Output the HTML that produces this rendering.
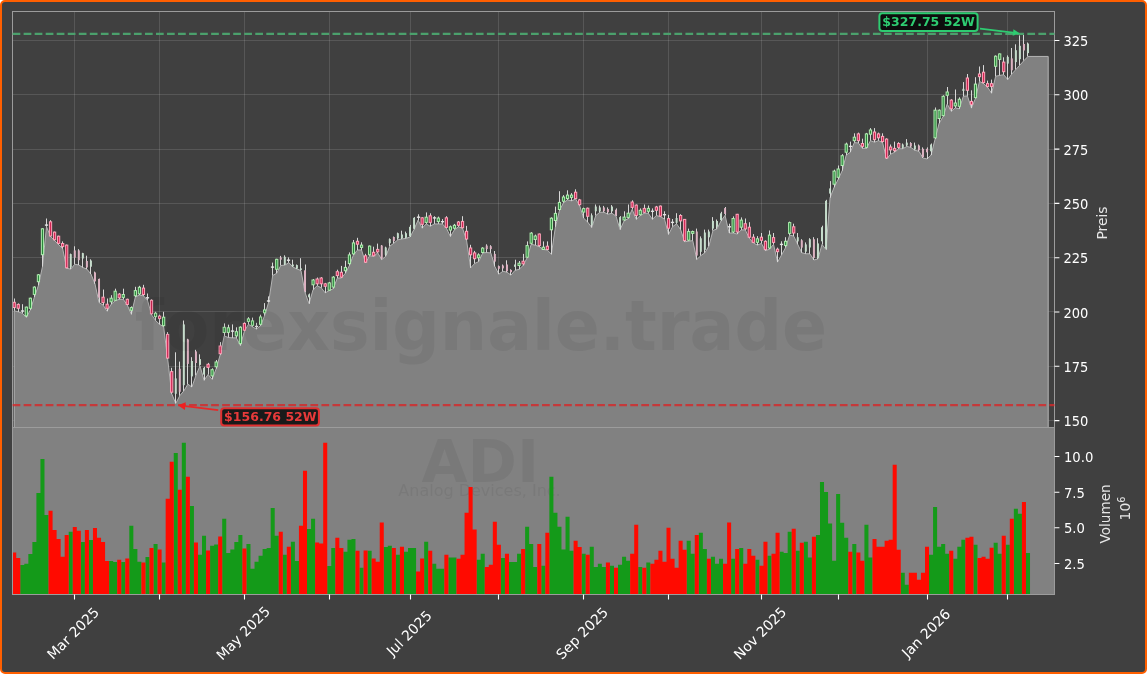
<!DOCTYPE html>
<html><head><meta charset="utf-8"><style>
html,body{margin:0;padding:0;background:#fff;}
#c{position:absolute;left:0;top:0;width:1147px;height:674px;box-sizing:border-box;border:2px solid #ff5f00;border-radius:5px;background:#404040;overflow:hidden;}
svg{position:absolute;left:-2px;top:-2px;will-change:transform;}
.tl{font-family:'DejaVu Sans','Liberation Sans',sans-serif;font-size:13.9px;fill:#fff;}
.al{font-family:'DejaVu Sans','Liberation Sans',sans-serif;font-size:13.9px;fill:#e6e6e6;}
</style></head><body><div id="c"><svg width="1147" height="674" viewBox="0 0 1147 674">
<path d="M74.5 11.5V427.5M159.5 11.5V427.5M244.5 11.5V427.5M329.5 11.5V427.5M410.5 11.5V427.5M498.5 11.5V427.5M583.5 11.5V427.5M668.5 11.5V427.5M761.5 11.5V427.5M838.5 11.5V427.5M927.5 11.5V427.5M1007.5 11.5V427.5" stroke="#fff" stroke-opacity="0.12" stroke-width="1" fill="none"/>
<path d="M12.5 40.5H1054.5M12.5 94.5H1054.5M12.5 149.5H1054.5M12.5 203.5H1054.5M12.5 257.5H1054.5M12.5 311.5H1054.5M12.5 366.5H1054.5M12.5 420.5H1054.5" stroke="#fff" stroke-opacity="0.12" stroke-width="1" fill="none"/>
<path d="M14.20 310.74 L18.24 311.88 L22.28 313.19 L26.32 317.27 L30.36 309.92 L34.39 297.19 L38.43 285.44 L42.47 266.67 L46.51 226.69 L50.55 236.48 L54.59 240.56 L58.63 244.64 L62.67 248.72 L66.71 268.31 L70.75 269.12 L74.78 264.23 L78.82 265.04 L82.86 267.49 L86.90 269.12 L90.94 274.02 L94.98 283.81 L99.02 302.58 L103.06 305.03 L107.10 311.23 L111.14 304.21 L115.17 300.83 L119.21 299.29 L123.25 299.29 L127.29 305.07 L131.33 314.33 L135.37 296.97 L139.41 295.04 L143.45 295.82 L147.49 300.25 L151.53 314.72 L155.56 320.50 L159.60 324.36 L163.64 326.68 L167.68 359.08 L171.72 393.80 L175.76 403.44 L179.80 395.73 L183.84 390.91 L187.88 384.15 L191.92 387.05 L195.95 375.47 L199.99 365.83 L204.03 380.30 L208.07 374.51 L212.11 379.33 L216.15 368.72 L220.19 354.84 L224.23 335.93 L228.27 337.48 L232.31 337.86 L236.34 337.86 L240.38 345.55 L244.42 331.08 L248.46 324.33 L252.50 326.84 L256.54 329.15 L260.58 325.68 L264.62 315.65 L268.66 302.15 L272.70 275.53 L276.73 273.22 L280.77 265.50 L284.81 265.12 L288.85 262.61 L292.89 267.05 L296.93 268.98 L300.97 270.52 L305.01 292.51 L309.05 303.69 L313.09 289.61 L317.12 285.76 L321.16 287.69 L325.20 292.89 L329.24 290.58 L333.28 288.65 L337.32 278.04 L341.36 278.04 L345.40 273.22 L349.44 265.50 L353.48 254.90 L357.51 249.97 L361.55 249.97 L365.59 262.89 L369.63 255.76 L373.67 256.34 L377.71 252.86 L381.75 259.61 L385.79 256.34 L389.83 246.11 L393.87 243.22 L397.90 239.75 L401.94 238.98 L405.98 238.40 L410.02 237.05 L414.06 229.33 L418.10 220.07 L422.14 228.18 L426.18 223.93 L430.22 226.25 L434.26 223.93 L438.29 223.93 L442.33 223.93 L446.37 228.18 L450.41 236.47 L454.45 229.72 L458.49 226.82 L462.53 228.18 L466.57 240.33 L470.61 267.91 L474.65 263.47 L478.68 261.62 L482.72 252.94 L486.76 252.55 L490.80 252.94 L494.84 266.44 L498.88 274.15 L502.92 271.26 L506.96 272.23 L511.00 275.12 L515.04 270.30 L519.07 269.33 L523.11 265.47 L527.15 257.76 L531.19 244.26 L535.23 245.22 L539.27 246.77 L543.31 249.47 L547.35 250.04 L551.39 254.29 L555.43 226.90 L559.47 210.50 L563.50 202.79 L567.54 199.90 L571.58 200.86 L575.62 198.93 L579.66 205.68 L583.70 218.22 L587.74 222.08 L591.78 227.48 L595.82 215.53 L599.86 212.26 L603.89 212.26 L607.93 214.18 L611.97 213.22 L616.01 216.11 L620.05 229.61 L624.09 220.93 L628.13 218.62 L632.17 209.36 L636.21 219.39 L640.25 215.53 L644.28 213.22 L648.32 213.22 L652.36 219.39 L656.40 215.53 L660.44 216.69 L664.48 219.01 L668.52 234.44 L672.56 226.72 L676.60 223.83 L680.63 229.61 L684.67 241.77 L688.71 241.19 L692.75 240.61 L696.79 259.51 L700.83 255.65 L704.87 252.76 L708.91 246.01 L712.95 230.58 L716.99 228.86 L721.02 220.96 L725.06 215.36 L729.10 233.01 L733.14 233.01 L737.18 234.05 L741.22 229.90 L745.26 229.90 L749.30 238.20 L753.34 242.98 L757.38 245.06 L761.41 243.40 L765.45 250.67 L769.49 249.21 L773.53 244.44 L777.57 262.09 L781.61 254.82 L785.65 247.55 L789.69 235.09 L793.73 236.13 L797.77 244.44 L801.80 252.74 L805.84 253.78 L809.88 253.78 L813.92 260.01 L817.96 258.98 L822.00 244.44 L826.04 249.63 L830.08 197.70 L834.12 187.31 L838.16 179.42 L842.19 170.70 L846.23 155.12 L850.27 152.23 L854.31 142.58 L858.35 142.97 L862.39 148.37 L866.43 148.37 L870.47 140.65 L874.51 142.20 L878.55 140.65 L882.59 142.58 L886.62 158.98 L890.66 154.15 L894.70 152.23 L898.74 148.75 L902.78 148.75 L906.82 146.44 L910.86 147.40 L914.90 150.30 L918.94 151.26 L922.98 158.01 L927.01 158.98 L931.05 155.12 L935.09 139.11 L939.13 123.29 L943.17 116.54 L947.21 104.01 L951.25 111.34 L955.29 107.86 L959.33 108.83 L963.37 96.22 L967.40 95.92 L971.44 108.09 L975.48 98.44 L979.52 81.38 L983.56 83.61 L987.60 87.31 L991.64 93.25 L995.68 76.19 L999.72 75.45 L1003.75 74.70 L1007.79 79.60 L1011.83 73.96 L1015.87 69.51 L1019.91 65.06 L1023.95 60.61 L1027.99 56.45 L1048.20 56.45 L1048.2 427.5 L14.20 427.5 Z" fill="#818181" stroke="#b4b4b4" stroke-width="1" stroke-linejoin="miter" stroke-miterlimit="2"/>
<path d="M14.5 298.5V310.7M18.5 303.4V311.9M22.5 304.2V313.2M26.5 306.7V317.3M30.5 297.7V309.9M34.5 286.3V297.2M38.5 274.0V285.4M42.5 228.3V266.7M46.5 218.5V226.7M50.5 220.2V236.5M54.5 231.6V240.6M58.5 235.7V244.6M62.5 241.4V248.7M66.5 244.6V268.3M70.5 253.6V269.1M74.5 246.3V264.2M78.5 249.2V265.0M82.5 252.8V267.5M86.5 255.7V269.1M90.5 259.3V274.0M94.5 271.6V283.8M99.5 278.6V302.6M103.5 289.5V305.0M107.5 298.5V311.2M111.5 295.2V304.2M115.5 288.7V300.8M119.5 293.1V299.3M123.5 288.7V299.3M127.5 298.7V305.1M131.5 306.4V314.3M135.5 286.8V297.0M139.5 285.8V295.0M143.5 284.8V295.8M147.5 293.5V300.3M151.5 299.3V314.7M155.5 311.8V320.5M159.5 314.7V324.4M163.5 311.8V326.7M167.5 332.1V359.1M171.5 367.8V393.8M175.5 352.3V403.4M179.5 361.6V395.7M183.5 320.5V390.9M187.5 338.8V384.2M191.5 357.2V387.0M195.5 349.8V375.5M199.5 354.3V365.8M204.5 366.8V380.3M208.5 362.9V374.5M212.5 368.3V379.3M216.5 360.0V368.7M220.5 342.1V354.8M224.5 323.4V335.9M228.5 324.7V337.5M232.5 324.4V337.9M236.5 327.3V337.9M240.5 326.3V345.5M244.5 322.4V331.1M248.5 317.2V324.3M252.5 317.6V326.8M256.5 322.8V329.2M260.5 314.7V325.7M264.5 303.1V315.7M268.5 296.4V302.2M272.5 262.6V275.5M276.5 258.8V273.2M280.5 255.9V265.5M284.5 255.3V265.1M288.5 257.4V262.6M292.5 259.7V267.0M296.5 264.5V269.0M300.5 258.2V270.5M305.5 264.5V292.5M309.5 293.5V303.7M313.5 279.0V289.6M317.5 277.5V285.8M321.5 277.1V287.7M325.5 282.9V292.9M329.5 281.9V290.6M333.5 276.1V288.6M337.5 269.7V278.0M341.5 265.9V278.0M345.5 260.7V273.2M349.5 252.4V265.5M353.5 240.0V254.9M357.5 237.8V250.0M361.5 242.3V250.0M365.5 253.8V262.9M369.5 245.5V255.8M373.5 246.7V256.3M377.5 243.6V252.9M381.5 245.1V259.6M385.5 246.7V256.3M389.5 238.4V246.1M393.5 236.5V243.2M397.5 232.6V239.7M401.5 230.7V239.0M405.5 231.6V238.4M410.5 224.9V237.0M414.5 217.2V229.3M418.5 214.3V220.1M422.5 217.2V228.2M426.5 212.4V223.9M430.5 213.3V226.2M434.5 216.2V223.9M438.5 216.6V223.9M442.5 219.1V223.9M446.5 216.2V228.2M450.5 225.5V236.5M454.5 223.9V229.7M458.5 221.0V226.8M462.5 216.2V228.2M466.5 225.9V240.3M470.5 244.8V267.9M474.5 250.9V263.5M478.5 253.3V261.6M482.5 247.2V252.9M486.5 244.3V252.6M490.5 245.2V252.9M494.5 251.0V266.4M498.5 265.5V274.2M502.5 264.5V271.3M506.5 260.3V272.2M510.5 269.3V275.1M515.5 259.7V270.3M519.5 261.0V269.3M523.5 253.9V265.5M527.5 241.4V257.8M531.5 232.1V244.3M535.5 234.6V245.2M539.5 233.6V246.8M543.5 241.4V249.5M547.5 241.4V250.0M551.5 217.3V254.3M555.5 206.6V226.9M559.5 191.2V210.5M563.5 195.1V202.8M567.5 190.3V199.9M571.5 193.1V200.9M575.5 189.3V198.9M579.5 198.9V205.7M583.5 207.6V218.2M587.5 207.6V222.1M591.5 213.4V227.5M595.5 204.5V215.5M599.5 205.5V212.3M603.5 205.9V212.3M607.5 207.4V214.2M611.5 205.1V213.2M616.5 208.4V216.1M620.5 216.1V229.6M624.5 211.3V220.9M628.5 204.5V218.6M632.5 200.3V209.4M636.5 204.5V219.4M640.5 208.4V215.5M644.5 204.5V213.2M648.5 205.5V213.2M652.5 208.4V219.4M656.5 205.9V215.5M660.5 205.5V216.7M664.5 211.3V219.0M668.5 214.8V234.4M672.5 219.0V226.7M676.5 213.2V223.8M680.5 214.2V229.6M684.5 219.0V241.8M688.5 228.6V241.2M692.5 230.6V240.6M696.5 228.6V259.5M700.5 236.4V255.7M704.5 229.6V252.8M708.5 229.6V246.0M712.5 217.1V230.6M716.5 219.5V228.9M721.5 211.8V221.0M725.5 207.0V215.4M729.5 223.7V233.0M733.5 216.4V233.0M737.5 213.9V234.1M741.5 217.4V229.9M745.5 218.5V229.9M749.5 222.2V238.2M753.5 234.1V243.0M757.5 236.1V245.1M761.5 233.0V243.4M765.5 240.3V250.7M769.5 230.5V249.2M773.5 233.0V244.4M777.5 247.6V262.1M781.5 241.3V254.8M785.5 237.2V247.6M789.5 221.6V235.1M793.5 223.7V236.1M797.5 233.0V244.4M801.5 239.2V252.7M805.5 242.4V253.8M809.5 238.2V253.8M813.5 237.2V260.0M817.5 238.2V259.0M822.5 225.7V244.4M826.5 199.8V249.6M830.5 181.1V197.7M834.5 169.7V187.3M838.5 165.5V179.4M842.5 154.1V170.7M846.5 142.6V155.1M850.5 141.6V152.2M854.5 133.3V142.6M858.5 132.6V143.0M862.5 138.7V148.4M866.5 132.9V148.4M870.5 128.1V140.7M874.5 128.1V142.2M878.5 132.6V140.7M882.5 133.3V142.6M886.5 138.3V159.0M890.5 144.5V154.2M894.5 141.6V152.2M898.5 142.2V148.8M902.5 143.5V148.8M906.5 139.1V146.4M910.5 142.2V147.4M914.5 142.6V150.3M918.5 144.5V151.3M922.5 147.4V158.0M927.5 147.4V159.0M931.5 143.5V155.1M935.5 107.5V139.1M939.5 109.4V123.3M943.5 95.3V116.5M947.5 87.0V104.0M951.5 99.2V111.3M955.5 89.5V107.9M959.5 97.3V108.8M963.5 82.1V96.2M967.5 74.0V95.9M971.5 90.3V108.1M975.5 77.2V98.4M979.5 66.5V81.4M983.5 65.1V83.6M987.5 80.6V87.3M991.5 79.6V93.2M995.5 55.4V76.2M999.5 53.5V75.4M1003.5 57.3V74.7M1007.5 55.4V79.6M1011.5 48.0V74.0M1015.5 44.3V69.5M1019.5 35.4V65.1M1023.5 34.2V60.6M1027.5 42.5V56.5" stroke="#d8d8d8" stroke-width="1" fill="none"/>
<rect x="13.10" y="302.3" width="2.2" height="5.2" fill="#d02452" stroke="#ffa4ba" stroke-width="1"/>
<rect x="17.14" y="304.4" width="2.2" height="3.9" fill="#d02452" stroke="#ffa4ba" stroke-width="1"/>
<rect x="20.90" y="310.3" width="3.2" height="1.4" fill="#e4e4e4"/>
<rect x="25.22" y="307.1" width="2.2" height="8.8" fill="#2a8a3c" stroke="#b0eeb0" stroke-width="1"/>
<rect x="29.26" y="298.2" width="2.2" height="10.1" fill="#2a8a3c" stroke="#b0eeb0" stroke-width="1"/>
<rect x="33.29" y="287.1" width="2.2" height="7.3" fill="#2a8a3c" stroke="#b0eeb0" stroke-width="1"/>
<rect x="37.33" y="274.8" width="2.2" height="6.9" fill="#2a8a3c" stroke="#b0eeb0" stroke-width="1"/>
<rect x="41.37" y="228.8" width="2.2" height="25.9" fill="#2a8a3c" stroke="#b0eeb0" stroke-width="1"/>
<rect x="44.90" y="224.4" width="3.2" height="1.4" fill="#e4e4e4"/>
<rect x="49.45" y="221.8" width="2.2" height="14.2" fill="#d02452" stroke="#ffa4ba" stroke-width="1"/>
<rect x="53.49" y="232.1" width="2.2" height="7.7" fill="#d02452" stroke="#ffa4ba" stroke-width="1"/>
<rect x="57.53" y="236.2" width="2.2" height="7.2" fill="#d02452" stroke="#ffa4ba" stroke-width="1"/>
<rect x="61.57" y="243.5" width="2.2" height="3.1" fill="#d02452" stroke="#ffa4ba" stroke-width="1"/>
<rect x="65.61" y="245.1" width="2.2" height="22.7" fill="#d02452" stroke="#ffa4ba" stroke-width="1"/>
<rect x="69.75" y="254.1" width="2" height="13.4" fill="#c6ddcc"/>
<rect x="73.78" y="250.4" width="2" height="7.3" fill="#ddb2c2"/>
<rect x="77.82" y="250.4" width="2" height="9.8" fill="#ddb2c2"/>
<rect x="81.86" y="253.1" width="2" height="5.4" fill="#c6ddcc"/>
<rect x="85.90" y="261.0" width="2" height="6.5" fill="#ddb2c2"/>
<rect x="89.94" y="260.5" width="2" height="6.2" fill="#c6ddcc"/>
<rect x="93.98" y="272.4" width="2" height="9.0" fill="#ddb2c2"/>
<rect x="98.02" y="278.9" width="2" height="18.8" fill="#ddb2c2"/>
<rect x="101.96" y="297.2" width="2.2" height="5.4" fill="#d02452" stroke="#ffa4ba" stroke-width="1"/>
<rect x="106.00" y="304.2" width="2.2" height="4.1" fill="#d02452" stroke="#ffa4ba" stroke-width="1"/>
<rect x="110.04" y="298.2" width="2.2" height="3.6" fill="#2a8a3c" stroke="#b0eeb0" stroke-width="1"/>
<rect x="114.08" y="291.2" width="2.2" height="9.1" fill="#2a8a3c" stroke="#b0eeb0" stroke-width="1"/>
<rect x="118.11" y="294.1" width="2.2" height="3.7" fill="#d02452" stroke="#ffa4ba" stroke-width="1"/>
<rect x="122.15" y="294.5" width="2.2" height="2.9" fill="#2a8a3c" stroke="#b0eeb0" stroke-width="1"/>
<rect x="126.19" y="299.3" width="2.2" height="5.2" fill="#d02452" stroke="#ffa4ba" stroke-width="1"/>
<rect x="130.23" y="307.6" width="2.2" height="2.7" fill="#2a8a3c" stroke="#b0eeb0" stroke-width="1"/>
<rect x="134.27" y="290.6" width="2.2" height="5.2" fill="#2a8a3c" stroke="#b0eeb0" stroke-width="1"/>
<rect x="138.31" y="287.3" width="2.2" height="6.6" fill="#2a8a3c" stroke="#b0eeb0" stroke-width="1"/>
<rect x="142.35" y="288.1" width="2.2" height="6.4" fill="#d02452" stroke="#ffa4ba" stroke-width="1"/>
<rect x="145.90" y="297.1" width="3.2" height="1.4" fill="#e4e4e4"/>
<rect x="150.43" y="300.3" width="2.2" height="13.5" fill="#d02452" stroke="#ffa4ba" stroke-width="1"/>
<rect x="154.46" y="313.2" width="2.2" height="3.5" fill="#2a8a3c" stroke="#b0eeb0" stroke-width="1"/>
<rect x="158.50" y="316.1" width="2.2" height="2.5" fill="#d02452" stroke="#ffa4ba" stroke-width="1"/>
<rect x="162.54" y="317.2" width="2.2" height="8.5" fill="#2a8a3c" stroke="#b0eeb0" stroke-width="1"/>
<rect x="166.58" y="334.4" width="2.2" height="23.7" fill="#d02452" stroke="#ffa4ba" stroke-width="1"/>
<rect x="170.62" y="371.6" width="2.2" height="20.6" fill="#d02452" stroke="#ffa4ba" stroke-width="1"/>
<rect x="174.76" y="378.4" width="2" height="15.4" fill="#c6ddcc"/>
<rect x="178.80" y="368.7" width="2" height="23.1" fill="#ddb2c2"/>
<rect x="182.84" y="324.4" width="2" height="60.8" fill="#c6ddcc"/>
<rect x="186.88" y="339.4" width="2" height="24.5" fill="#ddb2c2"/>
<rect x="190.92" y="361.0" width="2" height="15.4" fill="#c6ddcc"/>
<rect x="194.95" y="351.4" width="2" height="11.6" fill="#ddb2c2"/>
<rect x="198.99" y="359.1" width="2" height="5.8" fill="#c6ddcc"/>
<rect x="203.03" y="367.8" width="2" height="6.8" fill="#c6ddcc"/>
<rect x="206.97" y="364.3" width="2.2" height="3.1" fill="#d02452" stroke="#ffa4ba" stroke-width="1"/>
<rect x="211.01" y="369.7" width="2.2" height="6.2" fill="#2a8a3c" stroke="#b0eeb0" stroke-width="1"/>
<rect x="215.05" y="362.0" width="2.2" height="4.8" fill="#2a8a3c" stroke="#b0eeb0" stroke-width="1"/>
<rect x="219.09" y="346.0" width="2.2" height="7.7" fill="#d02452" stroke="#ffa4ba" stroke-width="1"/>
<rect x="223.13" y="327.3" width="2.2" height="5.2" fill="#2a8a3c" stroke="#b0eeb0" stroke-width="1"/>
<rect x="227.17" y="327.8" width="2.2" height="4.6" fill="#2a8a3c" stroke="#b0eeb0" stroke-width="1"/>
<rect x="230.90" y="330.4" width="3.2" height="1.4" fill="#e4e4e4"/>
<rect x="235.24" y="331.7" width="2.2" height="4.2" fill="#2a8a3c" stroke="#b0eeb0" stroke-width="1"/>
<rect x="239.28" y="327.2" width="2.2" height="16.4" fill="#2a8a3c" stroke="#b0eeb0" stroke-width="1"/>
<rect x="243.32" y="323.4" width="2.2" height="6.8" fill="#d02452" stroke="#ffa4ba" stroke-width="1"/>
<rect x="247.36" y="318.9" width="2.2" height="2.5" fill="#2a8a3c" stroke="#b0eeb0" stroke-width="1"/>
<rect x="251.40" y="320.9" width="2.2" height="4.4" fill="#2a8a3c" stroke="#b0eeb0" stroke-width="1"/>
<rect x="254.90" y="325.8" width="3.2" height="1.4" fill="#e4e4e4"/>
<rect x="259.48" y="317.0" width="2.2" height="7.3" fill="#2a8a3c" stroke="#b0eeb0" stroke-width="1"/>
<rect x="263.52" y="309.9" width="2.2" height="2.9" fill="#2a8a3c" stroke="#b0eeb0" stroke-width="1"/>
<rect x="266.90" y="300.3" width="3.2" height="1.4" fill="#e4e4e4"/>
<rect x="270.90" y="266.4" width="3.2" height="1.4" fill="#e4e4e4"/>
<rect x="275.63" y="259.3" width="2.2" height="10.0" fill="#2a8a3c" stroke="#b0eeb0" stroke-width="1"/>
<rect x="279.77" y="257.4" width="2" height="2.3" fill="#ddb2c2"/>
<rect x="283.81" y="256.8" width="2" height="7.7" fill="#c6ddcc"/>
<rect x="286.90" y="259.5" width="3.2" height="1.4" fill="#e4e4e4"/>
<rect x="291.89" y="264.5" width="2" height="1.9" fill="#c6ddcc"/>
<rect x="295.93" y="265.1" width="2" height="3.5" fill="#c6ddcc"/>
<rect x="299.97" y="268.4" width="2" height="1.5" fill="#c6ddcc"/>
<rect x="304.01" y="270.3" width="2" height="21.2" fill="#ddb2c2"/>
<rect x="308.05" y="294.4" width="2" height="2.9" fill="#c6ddcc"/>
<rect x="311.99" y="280.0" width="2.2" height="4.8" fill="#2a8a3c" stroke="#b0eeb0" stroke-width="1"/>
<rect x="316.02" y="279.0" width="2.2" height="4.8" fill="#d02452" stroke="#ffa4ba" stroke-width="1"/>
<rect x="320.06" y="278.0" width="2.2" height="5.8" fill="#d02452" stroke="#ffa4ba" stroke-width="1"/>
<rect x="324.10" y="283.8" width="2.2" height="2.5" fill="#d02452" stroke="#ffa4ba" stroke-width="1"/>
<rect x="328.14" y="282.9" width="2.2" height="7.3" fill="#2a8a3c" stroke="#b0eeb0" stroke-width="1"/>
<rect x="332.18" y="277.1" width="2.2" height="10.0" fill="#2a8a3c" stroke="#b0eeb0" stroke-width="1"/>
<rect x="336.22" y="271.7" width="2.2" height="3.9" fill="#d02452" stroke="#ffa4ba" stroke-width="1"/>
<rect x="340.26" y="272.3" width="2.2" height="4.8" fill="#d02452" stroke="#ffa4ba" stroke-width="1"/>
<rect x="344.30" y="267.4" width="2.2" height="3.3" fill="#2a8a3c" stroke="#b0eeb0" stroke-width="1"/>
<rect x="348.34" y="254.9" width="2.2" height="8.7" fill="#2a8a3c" stroke="#b0eeb0" stroke-width="1"/>
<rect x="352.38" y="242.9" width="2.2" height="11.0" fill="#2a8a3c" stroke="#b0eeb0" stroke-width="1"/>
<rect x="356.41" y="241.3" width="2.2" height="2.9" fill="#d02452" stroke="#ffa4ba" stroke-width="1"/>
<rect x="360.45" y="245.1" width="2.2" height="2.3" fill="#2a8a3c" stroke="#b0eeb0" stroke-width="1"/>
<rect x="364.49" y="255.8" width="2.2" height="6.4" fill="#d02452" stroke="#ffa4ba" stroke-width="1"/>
<rect x="368.53" y="246.1" width="2.2" height="8.7" fill="#2a8a3c" stroke="#b0eeb0" stroke-width="1"/>
<rect x="372.57" y="252.3" width="2.2" height="3.5" fill="#d02452" stroke="#ffa4ba" stroke-width="1"/>
<rect x="376.61" y="249.4" width="2.2" height="2.5" fill="#d02452" stroke="#ffa4ba" stroke-width="1"/>
<rect x="380.75" y="245.5" width="2" height="13.1" fill="#ddb2c2"/>
<rect x="384.79" y="247.5" width="2" height="7.3" fill="#c6ddcc"/>
<rect x="388.83" y="239.0" width="2" height="4.2" fill="#c6ddcc"/>
<rect x="392.87" y="237.0" width="2" height="4.2" fill="#ddb2c2"/>
<rect x="396.90" y="233.2" width="2" height="5.2" fill="#c6ddcc"/>
<rect x="400.94" y="234.5" width="2" height="3.9" fill="#c6ddcc"/>
<rect x="404.98" y="233.2" width="2" height="4.6" fill="#c6ddcc"/>
<rect x="409.02" y="226.8" width="2" height="9.6" fill="#c6ddcc"/>
<rect x="413.06" y="217.8" width="2" height="11.0" fill="#c6ddcc"/>
<rect x="416.90" y="216.5" width="3.2" height="1.4" fill="#e4e4e4"/>
<rect x="421.04" y="217.8" width="2.2" height="6.6" fill="#d02452" stroke="#ffa4ba" stroke-width="1"/>
<rect x="425.08" y="217.2" width="2.2" height="5.2" fill="#2a8a3c" stroke="#b0eeb0" stroke-width="1"/>
<rect x="429.12" y="215.8" width="2.2" height="6.6" fill="#d02452" stroke="#ffa4ba" stroke-width="1"/>
<rect x="432.90" y="217.2" width="3.2" height="1.4" fill="#e4e4e4"/>
<rect x="437.19" y="218.1" width="2.2" height="3.5" fill="#2a8a3c" stroke="#b0eeb0" stroke-width="1"/>
<rect x="440.90" y="221.0" width="3.2" height="1.4" fill="#e4e4e4"/>
<rect x="445.27" y="217.8" width="2.2" height="9.6" fill="#d02452" stroke="#ffa4ba" stroke-width="1"/>
<rect x="449.31" y="226.8" width="2.2" height="3.3" fill="#2a8a3c" stroke="#b0eeb0" stroke-width="1"/>
<rect x="453.35" y="225.3" width="2.2" height="2.9" fill="#2a8a3c" stroke="#b0eeb0" stroke-width="1"/>
<rect x="457.39" y="222.0" width="2.2" height="3.3" fill="#d02452" stroke="#ffa4ba" stroke-width="1"/>
<rect x="461.43" y="221.4" width="2.2" height="6.4" fill="#d02452" stroke="#ffa4ba" stroke-width="1"/>
<rect x="465.47" y="231.3" width="2.2" height="7.7" fill="#d02452" stroke="#ffa4ba" stroke-width="1"/>
<rect x="469.51" y="248.0" width="2.2" height="6.8" fill="#d02452" stroke="#ffa4ba" stroke-width="1"/>
<rect x="473.55" y="252.9" width="2.2" height="5.8" fill="#d02452" stroke="#ffa4ba" stroke-width="1"/>
<rect x="477.58" y="254.9" width="2.2" height="2.9" fill="#2a8a3c" stroke="#b0eeb0" stroke-width="1"/>
<rect x="481.62" y="248.1" width="2.2" height="4.4" fill="#2a8a3c" stroke="#b0eeb0" stroke-width="1"/>
<rect x="485.76" y="245.6" width="2" height="3.5" fill="#ddb2c2"/>
<rect x="489.80" y="246.2" width="2" height="2.9" fill="#ddb2c2"/>
<rect x="493.84" y="253.9" width="2" height="7.7" fill="#ddb2c2"/>
<rect x="497.88" y="266.1" width="2" height="2.7" fill="#ddb2c2"/>
<rect x="501.92" y="265.5" width="2" height="2.9" fill="#ddb2c2"/>
<rect x="505.96" y="264.5" width="2" height="6.8" fill="#ddb2c2"/>
<rect x="510.00" y="269.9" width="2" height="2.3" fill="#ddb2c2"/>
<rect x="514.04" y="264.5" width="2" height="2.3" fill="#c6ddcc"/>
<rect x="517.97" y="263.2" width="2.2" height="2.3" fill="#2a8a3c" stroke="#b0eeb0" stroke-width="1"/>
<rect x="522.01" y="261.2" width="2.2" height="2.7" fill="#d02452" stroke="#ffa4ba" stroke-width="1"/>
<rect x="526.05" y="245.6" width="2.2" height="11.6" fill="#2a8a3c" stroke="#b0eeb0" stroke-width="1"/>
<rect x="530.09" y="233.1" width="2.2" height="10.2" fill="#2a8a3c" stroke="#b0eeb0" stroke-width="1"/>
<rect x="534.13" y="236.0" width="2.2" height="3.5" fill="#2a8a3c" stroke="#b0eeb0" stroke-width="1"/>
<rect x="538.17" y="234.0" width="2.2" height="11.6" fill="#d02452" stroke="#ffa4ba" stroke-width="1"/>
<rect x="542.21" y="247.2" width="2.2" height="2.3" fill="#2a8a3c" stroke="#b0eeb0" stroke-width="1"/>
<rect x="546.25" y="246.2" width="2.2" height="3.3" fill="#d02452" stroke="#ffa4ba" stroke-width="1"/>
<rect x="550.29" y="218.2" width="2.2" height="11.6" fill="#2a8a3c" stroke="#b0eeb0" stroke-width="1"/>
<rect x="554.33" y="213.4" width="2.2" height="7.1" fill="#2a8a3c" stroke="#b0eeb0" stroke-width="1"/>
<rect x="558.37" y="202.4" width="2.2" height="7.1" fill="#2a8a3c" stroke="#b0eeb0" stroke-width="1"/>
<rect x="562.40" y="197.0" width="2.2" height="4.2" fill="#2a8a3c" stroke="#b0eeb0" stroke-width="1"/>
<rect x="566.44" y="195.1" width="2.2" height="3.5" fill="#2a8a3c" stroke="#b0eeb0" stroke-width="1"/>
<rect x="570.48" y="195.1" width="2.2" height="2.3" fill="#2a8a3c" stroke="#b0eeb0" stroke-width="1"/>
<rect x="574.52" y="192.2" width="2.2" height="6.4" fill="#d02452" stroke="#ffa4ba" stroke-width="1"/>
<rect x="578.56" y="199.9" width="2.2" height="4.8" fill="#d02452" stroke="#ffa4ba" stroke-width="1"/>
<rect x="582.60" y="208.6" width="2.2" height="3.5" fill="#2a8a3c" stroke="#b0eeb0" stroke-width="1"/>
<rect x="586.64" y="208.2" width="2.2" height="8.1" fill="#d02452" stroke="#ffa4ba" stroke-width="1"/>
<rect x="590.78" y="215.3" width="2" height="9.6" fill="#c6ddcc"/>
<rect x="594.82" y="206.5" width="2" height="4.8" fill="#c6ddcc"/>
<rect x="598.86" y="207.4" width="2" height="3.9" fill="#c6ddcc"/>
<rect x="602.89" y="207.4" width="2" height="3.9" fill="#ddb2c2"/>
<rect x="606.93" y="209.0" width="2" height="3.3" fill="#ddb2c2"/>
<rect x="610.97" y="206.5" width="2" height="4.8" fill="#c6ddcc"/>
<rect x="615.01" y="209.7" width="2" height="5.8" fill="#ddb2c2"/>
<rect x="619.05" y="217.1" width="2" height="9.6" fill="#c6ddcc"/>
<rect x="622.99" y="217.1" width="2.2" height="2.9" fill="#2a8a3c" stroke="#b0eeb0" stroke-width="1"/>
<rect x="627.03" y="213.2" width="2.2" height="4.2" fill="#2a8a3c" stroke="#b0eeb0" stroke-width="1"/>
<rect x="631.07" y="202.0" width="2.2" height="5.4" fill="#d02452" stroke="#ffa4ba" stroke-width="1"/>
<rect x="635.11" y="205.1" width="2.2" height="10.4" fill="#d02452" stroke="#ffa4ba" stroke-width="1"/>
<rect x="639.14" y="210.3" width="2.2" height="4.4" fill="#2a8a3c" stroke="#b0eeb0" stroke-width="1"/>
<rect x="643.18" y="208.4" width="2.2" height="3.9" fill="#d02452" stroke="#ffa4ba" stroke-width="1"/>
<rect x="647.22" y="208.4" width="2.2" height="2.9" fill="#2a8a3c" stroke="#b0eeb0" stroke-width="1"/>
<rect x="650.90" y="210.6" width="3.2" height="1.4" fill="#e4e4e4"/>
<rect x="655.30" y="207.0" width="2.2" height="3.3" fill="#d02452" stroke="#ffa4ba" stroke-width="1"/>
<rect x="659.34" y="206.1" width="2.2" height="10.0" fill="#d02452" stroke="#ffa4ba" stroke-width="1"/>
<rect x="662.90" y="214.0" width="3.2" height="1.4" fill="#e4e4e4"/>
<rect x="667.42" y="218.6" width="2.2" height="9.6" fill="#d02452" stroke="#ffa4ba" stroke-width="1"/>
<rect x="670.90" y="221.7" width="3.2" height="1.4" fill="#e4e4e4"/>
<rect x="675.60" y="218.0" width="2" height="4.8" fill="#c6ddcc"/>
<rect x="679.53" y="215.5" width="2.2" height="5.4" fill="#d02452" stroke="#ffa4ba" stroke-width="1"/>
<rect x="683.57" y="219.4" width="2.2" height="21.2" fill="#d02452" stroke="#ffa4ba" stroke-width="1"/>
<rect x="687.61" y="231.5" width="2.2" height="8.7" fill="#2a8a3c" stroke="#b0eeb0" stroke-width="1"/>
<rect x="691.65" y="231.5" width="2.2" height="1.9" fill="#2a8a3c" stroke="#b0eeb0" stroke-width="1"/>
<rect x="695.79" y="231.5" width="2" height="24.1" fill="#ddb2c2"/>
<rect x="699.83" y="238.3" width="2" height="13.5" fill="#c6ddcc"/>
<rect x="703.87" y="232.5" width="2" height="17.4" fill="#c6ddcc"/>
<rect x="707.91" y="231.5" width="2" height="5.8" fill="#c6ddcc"/>
<rect x="711.95" y="220.9" width="2" height="7.7" fill="#c6ddcc"/>
<rect x="715.99" y="221.0" width="2" height="5.8" fill="#c6ddcc"/>
<rect x="720.02" y="213.3" width="2" height="6.9" fill="#c6ddcc"/>
<rect x="724.06" y="208.1" width="2" height="5.8" fill="#ddb2c2"/>
<rect x="727.90" y="226.1" width="3.2" height="1.4" fill="#e4e4e4"/>
<rect x="732.04" y="218.5" width="2.2" height="13.5" fill="#2a8a3c" stroke="#b0eeb0" stroke-width="1"/>
<rect x="736.08" y="214.3" width="2.2" height="17.7" fill="#d02452" stroke="#ffa4ba" stroke-width="1"/>
<rect x="740.12" y="220.1" width="2.2" height="7.1" fill="#2a8a3c" stroke="#b0eeb0" stroke-width="1"/>
<rect x="744.16" y="223.7" width="2.2" height="5.2" fill="#d02452" stroke="#ffa4ba" stroke-width="1"/>
<rect x="748.20" y="227.2" width="2.2" height="10.0" fill="#d02452" stroke="#ffa4ba" stroke-width="1"/>
<rect x="752.24" y="237.2" width="2.2" height="5.2" fill="#d02452" stroke="#ffa4ba" stroke-width="1"/>
<rect x="756.28" y="238.8" width="2.2" height="3.5" fill="#2a8a3c" stroke="#b0eeb0" stroke-width="1"/>
<rect x="760.31" y="237.2" width="2.2" height="3.1" fill="#d02452" stroke="#ffa4ba" stroke-width="1"/>
<rect x="764.35" y="241.3" width="2.2" height="8.3" fill="#d02452" stroke="#ffa4ba" stroke-width="1"/>
<rect x="768.39" y="235.1" width="2.2" height="12.9" fill="#2a8a3c" stroke="#b0eeb0" stroke-width="1"/>
<rect x="772.43" y="237.6" width="2.2" height="4.8" fill="#d02452" stroke="#ffa4ba" stroke-width="1"/>
<rect x="776.47" y="249.2" width="2.2" height="2.5" fill="#d02452" stroke="#ffa4ba" stroke-width="1"/>
<rect x="779.90" y="243.7" width="3.2" height="1.4" fill="#e4e4e4"/>
<rect x="784.55" y="241.3" width="2.2" height="4.2" fill="#2a8a3c" stroke="#b0eeb0" stroke-width="1"/>
<rect x="788.59" y="222.6" width="2.2" height="10.8" fill="#2a8a3c" stroke="#b0eeb0" stroke-width="1"/>
<rect x="792.63" y="226.8" width="2.2" height="6.2" fill="#d02452" stroke="#ffa4ba" stroke-width="1"/>
<rect x="796.77" y="237.2" width="2" height="4.2" fill="#c6ddcc"/>
<rect x="800.80" y="240.3" width="2" height="7.3" fill="#ddb2c2"/>
<rect x="804.84" y="244.4" width="2" height="7.3" fill="#c6ddcc"/>
<rect x="808.88" y="239.2" width="2" height="8.3" fill="#c6ddcc"/>
<rect x="812.92" y="239.2" width="2" height="18.7" fill="#ddb2c2"/>
<rect x="816.96" y="243.4" width="2" height="14.5" fill="#c6ddcc"/>
<rect x="821.00" y="227.2" width="2" height="14.1" fill="#c6ddcc"/>
<rect x="825.04" y="200.8" width="2" height="47.8" fill="#c6ddcc"/>
<rect x="829.08" y="188.4" width="2" height="5.2" fill="#c6ddcc"/>
<rect x="833.02" y="171.1" width="2.2" height="13.1" fill="#2a8a3c" stroke="#b0eeb0" stroke-width="1"/>
<rect x="837.06" y="169.0" width="2.2" height="8.3" fill="#2a8a3c" stroke="#b0eeb0" stroke-width="1"/>
<rect x="841.09" y="155.7" width="2.2" height="9.8" fill="#2a8a3c" stroke="#b0eeb0" stroke-width="1"/>
<rect x="845.13" y="144.1" width="2.2" height="8.1" fill="#2a8a3c" stroke="#b0eeb0" stroke-width="1"/>
<rect x="848.90" y="145.7" width="3.2" height="1.4" fill="#e4e4e4"/>
<rect x="853.21" y="137.2" width="2.2" height="3.5" fill="#2a8a3c" stroke="#b0eeb0" stroke-width="1"/>
<rect x="857.25" y="133.9" width="2.2" height="6.8" fill="#d02452" stroke="#ffa4ba" stroke-width="1"/>
<rect x="861.29" y="143.5" width="2.2" height="2.9" fill="#d02452" stroke="#ffa4ba" stroke-width="1"/>
<rect x="865.33" y="133.9" width="2.2" height="13.5" fill="#2a8a3c" stroke="#b0eeb0" stroke-width="1"/>
<rect x="869.37" y="130.0" width="2.2" height="4.2" fill="#2a8a3c" stroke="#b0eeb0" stroke-width="1"/>
<rect x="873.41" y="132.0" width="2.2" height="7.7" fill="#d02452" stroke="#ffa4ba" stroke-width="1"/>
<rect x="877.45" y="133.9" width="2.2" height="3.9" fill="#d02452" stroke="#ffa4ba" stroke-width="1"/>
<rect x="881.49" y="136.4" width="2.2" height="5.2" fill="#d02452" stroke="#ffa4ba" stroke-width="1"/>
<rect x="885.52" y="139.1" width="2.2" height="18.9" fill="#d02452" stroke="#ffa4ba" stroke-width="1"/>
<rect x="889.56" y="147.0" width="2.2" height="2.9" fill="#d02452" stroke="#ffa4ba" stroke-width="1"/>
<rect x="893.60" y="148.4" width="2.2" height="2.3" fill="#d02452" stroke="#ffa4ba" stroke-width="1"/>
<rect x="897.64" y="143.5" width="2.2" height="3.9" fill="#d02452" stroke="#ffa4ba" stroke-width="1"/>
<rect x="901.78" y="144.5" width="2" height="3.5" fill="#c6ddcc"/>
<rect x="905.82" y="142.6" width="2" height="2.9" fill="#c6ddcc"/>
<rect x="909.86" y="143.0" width="2" height="3.5" fill="#ddb2c2"/>
<rect x="913.90" y="145.5" width="2" height="3.9" fill="#c6ddcc"/>
<rect x="917.94" y="145.5" width="2" height="4.8" fill="#ddb2c2"/>
<rect x="921.98" y="148.8" width="2" height="8.3" fill="#ddb2c2"/>
<rect x="926.01" y="148.8" width="2" height="3.5" fill="#ddb2c2"/>
<rect x="930.05" y="144.5" width="2" height="6.8" fill="#c6ddcc"/>
<rect x="933.99" y="110.2" width="2.2" height="27.6" fill="#2a8a3c" stroke="#b0eeb0" stroke-width="1"/>
<rect x="938.03" y="110.2" width="2.2" height="8.3" fill="#2a8a3c" stroke="#b0eeb0" stroke-width="1"/>
<rect x="942.07" y="96.3" width="2.2" height="19.3" fill="#2a8a3c" stroke="#b0eeb0" stroke-width="1"/>
<rect x="946.11" y="92.0" width="2.2" height="3.3" fill="#2a8a3c" stroke="#b0eeb0" stroke-width="1"/>
<rect x="950.15" y="100.1" width="2.2" height="8.7" fill="#d02452" stroke="#ffa4ba" stroke-width="1"/>
<rect x="954.19" y="103.0" width="2.2" height="2.9" fill="#2a8a3c" stroke="#b0eeb0" stroke-width="1"/>
<rect x="958.23" y="99.2" width="2.2" height="7.1" fill="#2a8a3c" stroke="#b0eeb0" stroke-width="1"/>
<rect x="962.37" y="88.8" width="2" height="2.2" fill="#c6ddcc"/>
<rect x="966.30" y="78.0" width="2.2" height="12.3" fill="#d02452" stroke="#ffa4ba" stroke-width="1"/>
<rect x="970.34" y="101.4" width="2.2" height="3.0" fill="#d02452" stroke="#ffa4ba" stroke-width="1"/>
<rect x="974.38" y="84.1" width="2.2" height="13.6" fill="#2a8a3c" stroke="#b0eeb0" stroke-width="1"/>
<rect x="978.42" y="74.0" width="2.2" height="2.7" fill="#d02452" stroke="#ffa4ba" stroke-width="1"/>
<rect x="982.46" y="72.2" width="2.2" height="10.4" fill="#d02452" stroke="#ffa4ba" stroke-width="1"/>
<rect x="986.50" y="83.6" width="2.2" height="3.0" fill="#d02452" stroke="#ffa4ba" stroke-width="1"/>
<rect x="990.54" y="83.6" width="2.2" height="3.0" fill="#d02452" stroke="#ffa4ba" stroke-width="1"/>
<rect x="994.58" y="56.2" width="2.2" height="10.1" fill="#2a8a3c" stroke="#b0eeb0" stroke-width="1"/>
<rect x="998.62" y="53.9" width="2.2" height="5.5" fill="#2a8a3c" stroke="#b0eeb0" stroke-width="1"/>
<rect x="1002.65" y="62.1" width="2.2" height="9.6" fill="#d02452" stroke="#ffa4ba" stroke-width="1"/>
<rect x="1006.79" y="56.9" width="2" height="6.7" fill="#c6ddcc"/>
<rect x="1010.83" y="58.4" width="2" height="11.9" fill="#ddb2c2"/>
<rect x="1014.87" y="50.2" width="2" height="11.9" fill="#c6ddcc"/>
<rect x="1018.91" y="45.8" width="2" height="13.4" fill="#c6ddcc"/>
<rect x="1022.95" y="44.0" width="2" height="6.5" fill="#ddb2c2"/>
<rect x="1026.99" y="43.5" width="2" height="9.6" fill="#c6ddcc"/>
<rect x="12.5" y="427.5" width="1042.0" height="167.0" fill="#818181"/>
<text x="480.25" y="481.8" text-anchor="middle" style="font-family:'DejaVu Sans','Liberation Sans',sans-serif;font-weight:bold;font-size:59.5px" fill="#000" fill-opacity="0.06">ADI</text>
<text x="479.5" y="495.9" text-anchor="middle" style="font-family:'DejaVu Sans','Liberation Sans',sans-serif;font-size:16px" fill="#000" fill-opacity="0.06">Analog Devices, Inc.</text>
<path d="M20.26 565.0H24.30V594.5H20.26ZM24.30 563.8H28.34V594.5H24.30ZM28.34 554.0H32.38V594.5H28.34ZM32.38 542.0H36.41V594.5H32.38ZM36.41 493.0H40.45V594.5H36.41ZM40.45 459.0H44.49V594.5H40.45ZM44.49 515.0H48.53V594.5H44.49ZM68.73 531.8H72.77V594.5H68.73ZM80.84 542.0H84.88V594.5H80.84ZM88.92 540.0H92.96V594.5H88.92ZM109.12 561.0H113.16V594.5H109.12ZM113.16 562.0H117.19V594.5H113.16ZM121.23 562.0H125.27V594.5H121.23ZM129.31 525.8H133.35V594.5H129.31ZM133.35 548.9H137.39V594.5H133.35ZM137.39 561.7H141.43V594.5H137.39ZM145.47 556.9H149.51V594.5H145.47ZM153.55 543.9H157.58V594.5H153.55ZM161.62 562.6H165.66V594.5H161.62ZM173.74 453.0H177.78V594.5H173.74ZM181.82 442.8H185.86V594.5H181.82ZM189.90 505.9H193.93V594.5H189.90ZM197.97 554.8H202.01V594.5H197.97ZM202.01 535.8H206.05V594.5H202.01ZM210.09 545.8H214.13V594.5H210.09ZM214.13 544.6H218.17V594.5H214.13ZM222.21 518.7H226.25V594.5H222.21ZM226.25 552.9H230.29V594.5H226.25ZM230.29 549.6H234.32V594.5H230.29ZM234.33 542.0H238.36V594.5H234.33ZM238.36 534.9H242.40V594.5H238.36ZM246.44 543.9H250.48V594.5H246.44ZM250.48 568.8H254.52V594.5H250.48ZM254.52 561.7H258.56V594.5H254.52ZM258.56 555.7H262.60V594.5H258.56ZM262.60 548.9H266.64V594.5H262.60ZM266.64 547.9H270.68V594.5H266.64ZM270.68 508.1H274.71V594.5H270.68ZM274.72 535.8H278.75V594.5H274.72ZM282.79 554.8H286.83V594.5H282.79ZM290.87 541.7H294.91V594.5H290.87ZM294.91 561.0H298.95V594.5H294.91ZM307.03 528.9H311.07V594.5H307.03ZM311.07 518.7H315.10V594.5H311.07ZM327.22 565.9H331.26V594.5H327.22ZM331.26 547.9H335.30V594.5H331.26ZM343.38 551.7H347.42V594.5H343.38ZM347.42 539.8H351.46V594.5H347.42ZM351.46 538.9H355.49V594.5H351.46ZM359.53 567.8H363.57V594.5H359.53ZM367.61 550.7H371.65V594.5H367.61ZM383.77 547.0H387.81V594.5H383.77ZM387.81 545.8H391.85V594.5H387.81ZM395.89 554.8H399.92V594.5H395.89ZM403.96 551.7H408.00V594.5H403.96ZM408.00 547.9H412.04V594.5H408.00ZM412.04 547.9H416.08V594.5H412.04ZM424.16 541.7H428.20V594.5H424.16ZM432.24 563.8H436.27V594.5H432.24ZM436.28 568.8H440.31V594.5H436.28ZM440.31 568.8H444.35V594.5H440.31ZM448.39 557.6H452.43V594.5H448.39ZM452.43 557.6H456.47V594.5H452.43ZM476.67 559.8H480.70V594.5H476.67ZM480.70 553.8H484.74V594.5H480.70ZM500.90 557.9H504.94V594.5H500.90ZM508.98 561.9H513.02V594.5H508.98ZM513.02 561.9H517.05V594.5H513.02ZM517.06 553.8H521.09V594.5H517.06ZM525.13 526.8H529.17V594.5H525.13ZM529.17 543.9H533.21V594.5H529.17ZM533.21 566.9H537.25V594.5H533.21ZM541.29 565.7H545.33V594.5H541.29ZM549.37 476.8H553.41V594.5H549.37ZM553.41 512.8H557.45V594.5H553.41ZM557.45 526.8H561.48V594.5H557.45ZM561.49 549.6H565.52V594.5H561.49ZM565.52 516.8H569.56V594.5H565.52ZM569.56 550.7H573.60V594.5H569.56ZM581.68 553.8H585.72V594.5H581.68ZM589.76 546.7H593.80V594.5H589.76ZM593.80 566.9H597.84V594.5H593.80ZM597.84 563.8H601.87V594.5H597.84ZM601.88 566.9H605.91V594.5H601.88ZM609.95 565.7H613.99V594.5H609.95ZM618.03 564.7H622.07V594.5H618.03ZM622.07 556.7H626.11V594.5H622.07ZM626.11 560.7H630.15V594.5H626.11ZM638.23 566.9H642.26V594.5H638.23ZM646.30 562.6H650.34V594.5H646.30ZM686.69 540.8H690.73V594.5H686.69ZM690.73 553.8H694.77V594.5H690.73ZM698.81 532.7H702.85V594.5H698.81ZM702.85 548.9H706.89V594.5H702.85ZM710.93 556.7H714.97V594.5H710.93ZM714.97 563.8H719.00V594.5H714.97ZM719.01 558.8H723.04V594.5H719.01ZM731.12 558.8H735.16V594.5H731.12ZM739.20 547.9H743.24V594.5H739.20ZM755.36 559.8H759.39V594.5H755.36ZM767.47 555.7H771.51V594.5H767.47ZM779.59 551.7H783.63V594.5H779.59ZM783.63 552.9H787.67V594.5H783.63ZM787.67 531.8H791.71V594.5H787.67ZM795.75 550.7H799.78V594.5H795.75ZM803.82 541.7H807.86V594.5H803.82ZM807.86 557.6H811.90V594.5H807.86ZM815.94 534.9H819.98V594.5H815.94ZM819.98 482.0H824.02V594.5H819.98ZM824.02 491.9H828.06V594.5H824.02ZM828.06 523.5H832.10V594.5H828.06ZM832.10 560.7H836.14V594.5H832.10ZM836.14 494.1H840.17V594.5H836.14ZM840.18 522.8H844.21V594.5H840.18ZM844.22 537.7H848.25V594.5H844.22ZM852.29 543.9H856.33V594.5H852.29ZM864.41 524.7H868.45V594.5H864.41ZM868.45 557.6H872.49V594.5H868.45ZM900.76 572.8H904.80V594.5H900.76ZM904.80 584.7H908.84V594.5H904.80ZM929.03 554.8H933.07V594.5H929.03ZM933.07 506.9H937.11V594.5H933.07ZM937.11 546.7H941.15V594.5H937.11ZM941.15 543.9H945.19V594.5H941.15ZM945.19 553.8H949.23V594.5H945.19ZM953.27 558.8H957.31V594.5H953.27ZM957.31 546.7H961.35V594.5H957.31ZM961.35 539.8H965.38V594.5H961.35ZM973.46 544.8H977.50V594.5H973.46ZM993.66 542.7H997.70V594.5H993.66ZM997.70 553.8H1001.74V594.5H997.70ZM1005.77 544.8H1009.81V594.5H1005.77ZM1013.85 508.8H1017.89V594.5H1013.85ZM1017.89 513.8H1021.93V594.5H1017.89ZM1025.97 552.9H1030.01V594.5H1025.97Z" fill="#149a19"/>
<path d="M12.50 552.6H16.22V594.5H12.50ZM16.22 557.9H20.26V594.5H16.22ZM48.53 510.7H52.57V594.5H48.53ZM52.57 530.0H56.61V594.5H52.57ZM56.61 539.0H60.65V594.5H56.61ZM60.65 556.7H64.69V594.5H60.65ZM64.69 535.0H68.73V594.5H64.69ZM72.77 527.0H76.80V594.5H72.77ZM76.80 530.8H80.84V594.5H76.80ZM84.88 530.0H88.92V594.5H84.88ZM92.96 528.0H97.00V594.5H92.96ZM97.00 537.7H101.04V594.5H97.00ZM101.04 542.0H105.08V594.5H101.04ZM105.08 561.0H109.12V594.5H105.08ZM117.19 559.8H121.23V594.5H117.19ZM125.27 558.6H129.31V594.5H125.27ZM141.43 562.6H145.47V594.5H141.43ZM149.51 547.9H153.54V594.5H149.51ZM157.58 549.6H161.62V594.5H157.58ZM165.66 498.8H169.70V594.5H165.66ZM169.70 461.8H173.74V594.5H169.70ZM177.78 489.8H181.82V594.5H177.78ZM185.86 476.8H189.90V594.5H185.86ZM193.94 542.4H197.97V594.5H193.94ZM206.05 550.5H210.09V594.5H206.05ZM218.17 536.5H222.21V594.5H218.17ZM242.40 548.6H246.44V594.5H242.40ZM278.75 531.8H282.79V594.5H278.75ZM286.83 546.7H290.87V594.5H286.83ZM298.95 525.8H302.99V594.5H298.95ZM302.99 470.8H307.03V594.5H302.99ZM315.11 542.4H319.14V594.5H315.11ZM319.14 543.6H323.18V594.5H319.14ZM323.18 442.8H327.22V594.5H323.18ZM335.30 537.7H339.34V594.5H335.30ZM339.34 547.9H343.38V594.5H339.34ZM355.50 550.7H359.53V594.5H355.50ZM363.57 550.5H367.61V594.5H363.57ZM371.65 558.6H375.69V594.5H371.65ZM375.69 561.7H379.73V594.5H375.69ZM379.73 522.5H383.77V594.5H379.73ZM391.85 547.9H395.88V594.5H391.85ZM399.92 546.7H403.96V594.5H399.92ZM416.08 571.6H420.12V594.5H416.08ZM420.12 558.6H424.16V594.5H420.12ZM428.20 550.7H432.24V594.5H428.20ZM444.35 554.8H448.39V594.5H444.35ZM456.47 558.8H460.51V594.5H456.47ZM460.51 554.8H464.55V594.5H460.51ZM464.55 512.8H468.59V594.5H464.55ZM468.59 487.0H472.63V594.5H468.59ZM472.63 529.6H476.66V594.5H472.63ZM484.74 566.9H488.78V594.5H484.74ZM488.78 564.7H492.82V594.5H488.78ZM492.82 521.8H496.86V594.5H492.82ZM496.86 544.8H500.90V594.5H496.86ZM504.94 553.8H508.98V594.5H504.94ZM521.10 548.9H525.13V594.5H521.10ZM537.25 543.9H541.29V594.5H537.25ZM545.33 532.7H549.37V594.5H545.33ZM573.60 540.8H577.64V594.5H573.60ZM577.64 547.0H581.68V594.5H577.64ZM585.72 554.8H589.76V594.5H585.72ZM605.91 562.6H609.95V594.5H605.91ZM613.99 567.8H618.03V594.5H613.99ZM630.15 553.8H634.19V594.5H630.15ZM634.19 524.7H638.23V594.5H634.19ZM642.26 567.8H646.30V594.5H642.26ZM650.34 563.8H654.38V594.5H650.34ZM654.38 559.8H658.42V594.5H654.38ZM658.42 550.7H662.46V594.5H658.42ZM662.46 561.7H666.50V594.5H662.46ZM666.50 527.7H670.54V594.5H666.50ZM670.54 558.8H674.58V594.5H670.54ZM674.58 567.8H678.62V594.5H674.58ZM678.62 540.8H682.65V594.5H678.62ZM682.65 549.8H686.69V594.5H682.65ZM694.77 534.9H698.81V594.5H694.77ZM706.89 558.8H710.93V594.5H706.89ZM723.04 563.8H727.08V594.5H723.04ZM727.08 522.5H731.12V594.5H727.08ZM735.16 548.9H739.20V594.5H735.16ZM743.24 563.8H747.28V594.5H743.24ZM747.28 548.9H751.32V594.5H747.28ZM751.32 555.7H755.36V594.5H751.32ZM759.40 565.7H763.43V594.5H759.40ZM763.43 541.7H767.47V594.5H763.43ZM771.51 553.8H775.55V594.5H771.51ZM775.55 532.7H779.59V594.5H775.55ZM791.71 528.7H795.75V594.5H791.71ZM799.79 542.7H803.82V594.5H799.79ZM811.90 536.8H815.94V594.5H811.90ZM848.25 551.7H852.29V594.5H848.25ZM856.33 552.6H860.37V594.5H856.33ZM860.37 560.7H864.41V594.5H860.37ZM872.49 538.9H876.53V594.5H872.49ZM876.53 546.7H880.56V594.5H876.53ZM880.57 546.7H884.60V594.5H880.57ZM884.61 540.8H888.64V594.5H884.61ZM888.64 539.8H892.68V594.5H888.64ZM892.68 464.7H896.72V594.5H892.68ZM896.72 549.8H900.76V594.5H896.72ZM908.84 572.8H912.88V594.5H908.84ZM912.88 572.8H916.92V594.5H912.88ZM916.92 579.7H920.95V594.5H916.92ZM920.96 572.8H924.99V594.5H920.96ZM925.00 546.7H929.03V594.5H925.00ZM949.23 550.7H953.27V594.5H949.23ZM965.38 537.7H969.42V594.5H965.38ZM969.42 536.8H973.46V594.5H969.42ZM977.50 557.9H981.54V594.5H977.50ZM981.54 556.7H985.58V594.5H981.54ZM985.58 558.8H989.62V594.5H985.58ZM989.62 547.7H993.66V594.5H989.62ZM1001.74 535.8H1005.77V594.5H1001.74ZM1009.81 518.7H1013.85V594.5H1009.81ZM1021.93 501.9H1025.97V594.5H1021.93Z" fill="#ff0a00"/>
<rect x="12.5" y="11.5" width="1042.0" height="416.0" fill="none" stroke="#9c9c9c" stroke-width="1"/>
<rect x="12.5" y="427.5" width="1042.0" height="167.0" fill="none" stroke="#9c9c9c" stroke-width="1"/>
<line x1="12.6" y1="33.9" x2="1054.5" y2="33.9" stroke="#4ba06c" stroke-opacity="1" stroke-width="2.08" stroke-dasharray="7.71 3.32"/>
<line x1="12.6" y1="405.1" x2="1054.5" y2="405.1" stroke="#d62728" stroke-opacity="0.8" stroke-width="2.08" stroke-dasharray="7.71 3.32"/>
<text transform="translate(480.9,349.7) scale(0.963,1)" text-anchor="middle" style="font-family:'DejaVu Sans','Liberation Sans',sans-serif;font-weight:bold;font-size:69px" fill="#000" fill-opacity="0.06">forexsignale.trade</text>
<rect x="879.4" y="13.2" width="98.2" height="17.8" rx="3" fill="#000" fill-opacity="0.8" stroke="#2ecc71" stroke-width="2"/>
<text x="928.6" y="25.9" text-anchor="middle" style="font-family:'DejaVu Sans','Liberation Sans',sans-serif;font-weight:bold;font-size:12.5px" fill="#2ecc71">$327.75 52W</text>
<path d="M980 28.7 L1013.1 32.6" stroke="#2ecc71" stroke-width="1.7" fill="none"/><path d="M1020 33.4 L1012.66 35.86 L1013.44 29.3 Z" fill="#2ecc71"/>
<rect x="221.2" y="408.3" width="97.7" height="17.2" rx="3" fill="#000" fill-opacity="0.8" stroke="#e03030" stroke-width="2"/>
<text x="270.35" y="420.8" text-anchor="middle" style="font-family:'DejaVu Sans','Liberation Sans',sans-serif;font-weight:bold;font-size:12.5px" fill="#e83a3a">$156.76 52W</text>
<path d="M218.2 410.1 L185.3 406.1" stroke="#e82828" stroke-width="1.7" fill="none"/><path d="M177.9 405.2 L185.8 402.3 L184.9 409.9 Z" fill="#f02020"/>
<text transform="translate(1063.5,46.10) scale(0.94,1)" class="tl">325</text>
<text transform="translate(1063.5,100.40) scale(0.94,1)" class="tl">300</text>
<text transform="translate(1063.5,154.69) scale(0.94,1)" class="tl">275</text>
<text transform="translate(1063.5,208.98) scale(0.94,1)" class="tl">250</text>
<text transform="translate(1063.5,263.27) scale(0.94,1)" class="tl">225</text>
<text transform="translate(1063.5,317.57) scale(0.94,1)" class="tl">200</text>
<text transform="translate(1063.5,371.86) scale(0.94,1)" class="tl">175</text>
<text transform="translate(1063.5,426.15) scale(0.94,1)" class="tl">150</text>
<text transform="translate(1063.9,462.10) scale(0.95,1)" class="tl">10.0</text>
<text transform="translate(1063.9,497.77) scale(0.95,1)" class="tl">7.5</text>
<text transform="translate(1063.9,533.44) scale(0.95,1)" class="tl">5.0</text>
<text transform="translate(1063.9,569.10) scale(0.95,1)" class="tl">2.5</text>
<text class="tl" style="font-size:14px" transform="translate(73.0,633.1) rotate(-45)" text-anchor="middle" dy="0.36em">Mar 2025</text>
<text class="tl" style="font-size:14px" transform="translate(243.0,633.1) rotate(-45)" text-anchor="middle" dy="0.36em">May 2025</text>
<text class="tl" style="font-size:14px" transform="translate(409.0,633.1) rotate(-45)" text-anchor="middle" dy="0.36em">Jul 2025</text>
<text class="tl" style="font-size:14px" transform="translate(582.0,633.1) rotate(-45)" text-anchor="middle" dy="0.36em">Sep 2025</text>
<text class="tl" style="font-size:14px" transform="translate(760.0,633.1) rotate(-45)" text-anchor="middle" dy="0.36em">Nov 2025</text>
<text class="tl" style="font-size:14px" transform="translate(926.0,633.1) rotate(-45)" text-anchor="middle" dy="0.36em">Jan 2026</text>
<path d="M1054.5 40.5h4.9M1054.5 94.8h4.9M1054.5 149.1h4.9M1054.5 203.4h4.9M1054.5 257.7h4.9M1054.5 312.0h4.9M1054.5 366.3h4.9M1054.5 420.6h4.9M1054.5 456.5h4.9M1054.5 492.2h4.9M1054.5 527.8h4.9M1054.5 563.5h4.9M74.5 594.5v4.9M159.5 594.5v4.9M244.5 594.5v4.9M329.5 594.5v4.9M410.5 594.5v4.9M498.5 594.5v4.9M583.5 594.5v4.9M668.5 594.5v4.9M761.5 594.5v4.9M838.5 594.5v4.9M927.5 594.5v4.9M1007.5 594.5v4.9" stroke="#fff" stroke-width="1.1" fill="none"/>
<text class="al" transform="translate(1107,223) rotate(-90)" text-anchor="middle">Preis</text>
<text class="al" style="font-size:13.6px" transform="translate(1109.8,513.9) rotate(-90)" text-anchor="middle">Volumen</text>
<text class="al" transform="translate(1130,508.5) rotate(-90)" text-anchor="middle">10<tspan dy="-5" font-size="9.7">6</tspan></text>
</svg></div></body></html>
